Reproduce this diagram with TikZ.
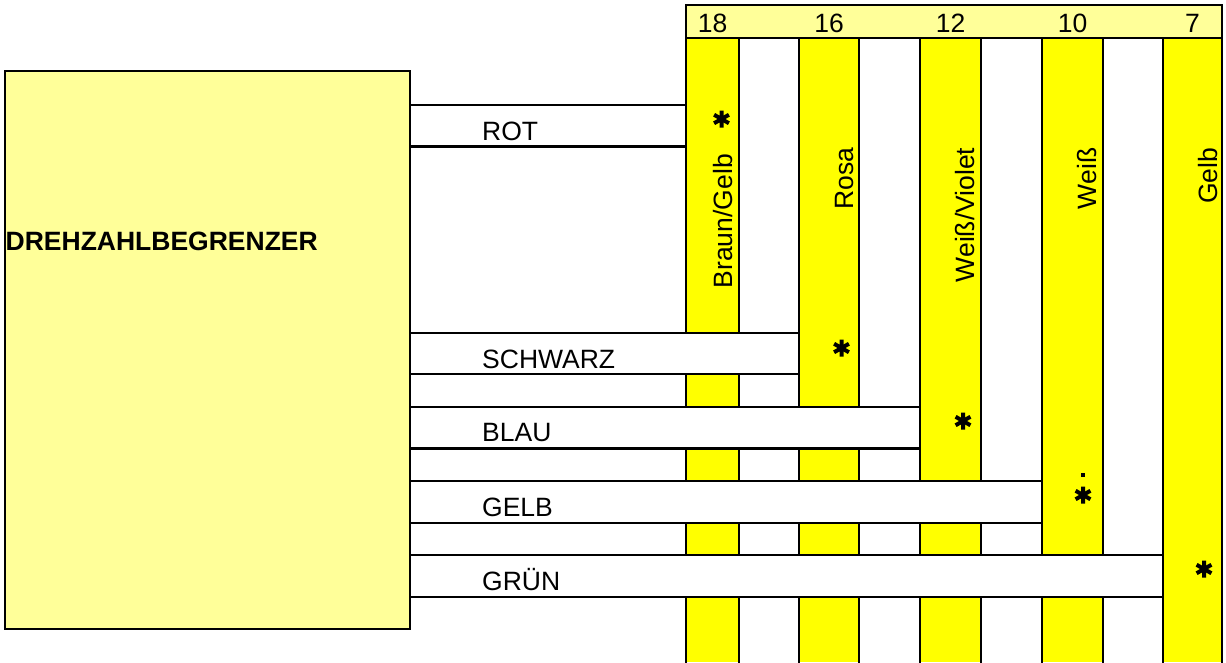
\documentclass[tikz,border=0pt]{standalone}
\usepackage{fontspec}
\setmainfont{Liberation Sans}
\definecolor{boxyellow}{HTML}{FFFF99}
\definecolor{coly}{HTML}{FFFF00}
\begin{document}
\begin{tikzpicture}[x=1pt,y=-1pt,
  lw/.style={line width=2.1pt},
  txt/.style={font=\fontsize{26.5}{30}\selectfont, inner sep=0pt, text=black},
  vlbl/.style={txt, rotate=90, anchor=base east},
  astk/.pic={\draw[line width=4pt] (0,-8.5)--(0,8.5) (-7.4,-4.25)--(7.4,4.25) (-7.4,4.25)--(7.4,-4.25);}]
\useasboundingbox (0,0) rectangle (1226,662);
% yellow columns
\foreach \l/\r [count=\i] in {686/739, 799/859, 920/981, 1042/1103, 1163/1222}{
  \fill[coly] (\l,38) rectangle (\r,662);
}
% column borders
\foreach \x in {686,739,799,859,920,981,1042,1103,1163,1222}{
  \draw[lw] (\x,38) -- (\x,663);
}
% wires
\foreach \t/\b/\e/\n/\bl [count=\i] in {105/146.5/686/ROT/140, 333/374/799/SCHWARZ/368, 407/448.5/920/BLAU/441.7, 481/523/1042/GELB/516.7, 555/597/1163/GRÜN/590.7}{
  \fill[white] (410,\t) rectangle (\e-1,\b);
  \coordinate (ws\i) at (410,\t);
  \coordinate (we\i) at (\e,\t);
  \coordinate (wb\i) at (410,\b);
  \coordinate (wbe\i) at (\e,\b);
  \draw[lw] (ws\i) -- (we\i);
  \draw[lw] (wb\i) -- (wbe\i);
  \node[txt, anchor=base west] (wl\i) at (482,\bl) {\n};
}
% controller box
\draw[lw, fill=boxyellow] (5,71) rectangle (410,629);
\node[txt, anchor=base west, font=\fontsize{26.5}{30}\selectfont\bfseries] (ctrl) at (5.5,250) {DREHZAHLBEGRENZER};
% header
\draw[lw, fill=boxyellow] (686,5) rectangle (1222,38);
\foreach \c/\n [count=\i] in {712.5/18, 829/16, 950.5/12, 1072.5/10, 1192.5/7}{
  \node[txt, anchor=base] (h\i) at (\c,32.3) {\n};
}
% vertical colour labels
\node[vlbl] (v1) at (732,154) {Braun/Gelb};
\node[vlbl] (v2) at (853,147.5) {Rosa};
\node[vlbl] (v3) at (974.7,147.5) {Weiß/Violet};
\node[vlbl] (v4) at (1096.5,147.5) {Weiß};
\node[vlbl] (v5) at (1217,147.5) {Gelb};
% connection marks
\pic at (721.5,119) {astk};
\pic at (841.5,348) {astk};
\pic at (963,421) {astk};
\pic at (1083,495) {astk};
\fill (1081,473) rectangle (1085,477);
\pic at (1204,569) {astk};
\end{tikzpicture}
\end{document}
